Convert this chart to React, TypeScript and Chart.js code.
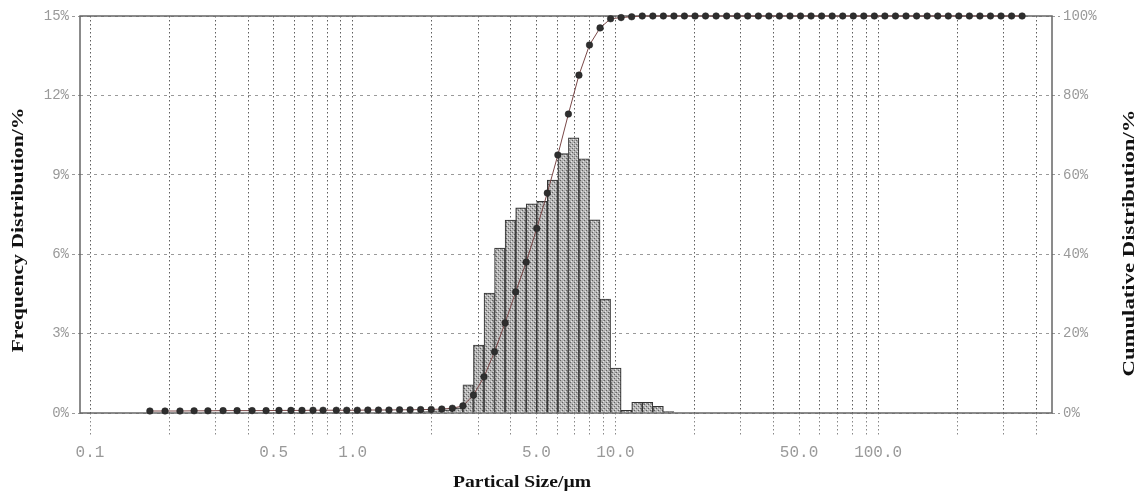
import React, { useEffect, useRef } from 'react';
import { Chart, registerables } from 'chart.js';

Chart.register(...registerables);

// Cumulative distribution points: particle size (µm) and cumulative %
const cumulativeSizes = [
  0.169, 0.193, 0.220, 0.249, 0.281, 0.321, 0.363, 0.414, 0.468, 0.524, 0.582, 0.641, 0.706, 0.771,
  0.866, 0.949, 1.041, 1.142, 1.253, 1.374, 1.508, 1.654, 1.814, 1.990, 2.183, 2.395,
  2.627, 2.881, 3.160, 3.466, 3.802, 4.171, 4.575, 5.018, 5.504, 6.037, 6.622, 7.263, 7.967, 8.739, 9.585, 10.51, 11.53,
  12.65, 13.88, 15.22, 16.70, 18.31, 20.09, 22.03, 24.17, 26.51, 29.08, 31.89, 34.99, 38.38, 42.10, 46.17, 50.65,
  55.55, 60.94, 66.83, 73.31, 80.42, 88.20, 96.76, 106.1, 116.4, 127.7, 140.1, 153.7, 168.6, 184.9, 202.8, 222.5,
  244.0, 267.7, 293.6, 322.1, 353.2,
];
const cumulativeValues = [
  0.5, 0.5, 0.5, 0.55, 0.55, 0.6, 0.6, 0.6, 0.6, 0.65, 0.65, 0.65, 0.7, 0.7,
  0.7, 0.7, 0.7, 0.75, 0.75, 0.75, 0.8, 0.8, 0.85, 0.9, 1.0, 1.2,
  1.8, 4.5, 9.1, 15.4, 22.7, 30.5, 38.0, 46.5, 55.4, 65.0, 75.3, 85.1, 92.7, 97.0, 99.3, 99.6, 99.8,
  100, 100, 100, 100, 100, 100, 100, 100, 100, 100, 100, 100, 100, 100, 100, 100,
  100, 100, 100, 100, 100, 100, 100, 100, 100, 100, 100, 100, 100, 100, 100, 100,
  100, 100, 100, 100, 100,
];

// Frequency histogram: bin centres (µm) and frequency %
const binCenters = [
  1.900, 2.084, 2.286, 2.508, 2.751, 3.017, 3.310, 3.630, 3.982, 4.368, 4.791, 5.255,
  5.764, 6.323, 6.935, 7.607, 8.344, 9.152, 10.04, 11.01, 12.08, 13.25, 14.54, 15.94,
];
const frequencyValues = [
  0.05, 0.08, 0.12, 0.2, 1.06, 2.57, 4.53, 6.23, 7.29, 7.75, 7.9, 8.0,
  8.8, 9.8, 10.4, 9.6, 7.3, 4.3, 1.7, 0.1, 0.4, 0.4, 0.25, 0.05,
];

// Axis ticks
const xGridTicks = [
  0.1, 0.2, 0.3, 0.4, 0.5, 0.6, 0.7, 0.8, 0.9,
  1, 2, 3, 4, 5, 6, 7, 8, 9,
  10, 20, 30, 40, 50, 60, 70, 80, 90,
  100, 200, 300, 400,
];
const xLabeledTicks = [0.1, 0.5, 1, 5, 10, 50, 100];
const leftTicks = [0, 3, 6, 9, 12, 15];
const rightTicks = [0, 20, 40, 60, 80, 100];

const xTitle = 'Partical Size/µm';
const leftTitle = 'Frequency Distribution/%';
const rightTitle = 'Cumulative Distribution/%';

function makePattern(): CanvasPattern | string {
  const c = document.createElement('canvas');
  c.width = 4;
  c.height = 4;
  const g = c.getContext('2d');
  if (!g) return 'rgba(160,160,160,0.8)';
  g.fillStyle = 'rgba(160,160,160,0.78)';
  g.fillRect(0, 0, 4, 4);
  g.fillStyle = 'rgba(70,70,70,0.75)';
  g.fillRect(0, 0, 1, 1);
  g.fillRect(2, 2, 1, 1);
  g.fillStyle = 'rgba(235,235,235,0.9)';
  g.fillRect(1, 3, 1, 1);
  g.fillRect(3, 1, 1, 1);
  return g.createPattern(c, 'repeat') || 'rgba(160,160,160,0.8)';
}

const framePlugin = {
  id: 'frameBox',
  beforeDatasetsDraw(chart: any) {
    const { ctx, chartArea } = chart;
    ctx.save();
    ctx.strokeStyle = '#666';
    ctx.lineWidth = 1.5;
    ctx.strokeRect(chartArea.left, chartArea.top, chartArea.right - chartArea.left, chartArea.bottom - chartArea.top);
    ctx.restore();
  },
};

const titlesPlugin = {
  id: 'axisTitles',
  afterDraw(chart: any) {
    const ctx = chart.ctx as CanvasRenderingContext2D;
    const draw = (text: string, cx: number, cy: number, rot: number, len: number, size: number) => {
      ctx.save();
      ctx.font = `bold ${size}px "Liberation Serif", "DejaVu Serif", serif`;
      ctx.fillStyle = '#111';
      ctx.textAlign = 'center';
      ctx.textBaseline = 'middle';
      const w = ctx.measureText(text).width;
      ctx.translate(cx, cy);
      ctx.rotate(rot);
      ctx.scale(len / w, 1);
      ctx.fillText(text, 0, 0);
      ctx.restore();
    };
    draw(leftTitle, 19, 230, -Math.PI / 2, 245, 17);
    draw(rightTitle, 1130, 243, -Math.PI / 2, 267, 17);
    draw(xTitle, 522, 483, 0, 138, 17);
  },
};

export default function App() {
  const ref = useRef<HTMLCanvasElement | null>(null);

  useEffect(() => {
    if (!ref.current) return;
    const tickFont = { family: '"Liberation Mono", "DejaVu Sans Mono", monospace', size: 14 };
    const xTickFont = { family: '"Liberation Mono", "DejaVu Sans Mono", monospace', size: 16 };
    const chart = new Chart(ref.current, {
      type: 'bar',
      data: {
        datasets: [
          {
            type: 'line',
            label: 'Cumulative',
            data: cumulativeSizes.map((s, i) => ({ x: s, y: cumulativeValues[i] })),
            yAxisID: 'y2',
            borderColor: '#7a4848',
            borderWidth: 1,
            tension: 0,
            pointRadius: 3.3,
            pointBackgroundColor: '#2e2e2e',
            pointBorderColor: '#222',
            pointBorderWidth: 0.5,
            clip: false,
            order: 0,
          } as any,
          {
            type: 'bar',
            label: 'Frequency',
            data: binCenters.map((s, i) => ({ x: s, y: frequencyValues[i] })),
            yAxisID: 'y',
            backgroundColor: makePattern(),
            borderColor: '#333',
            borderWidth: 1,
            barPercentage: 1,
            categoryPercentage: 1,
            order: 1,
          } as any,
        ],
      },
      options: {
        animation: false,
        responsive: false,
        devicePixelRatio: 1,
        layout: { padding: { top: 16, left: 0, right: 0, bottom: 0 } },
        plugins: {
          legend: { display: false },
          tooltip: { enabled: false },
        },
        scales: {
          x: {
            type: 'logarithmic',
            position: 'bottom',
            offset: false,
            min: 0.0916,
            max: 459,
            bounds: 'data',
            afterBuildTicks: (scale: any) => {
              scale.ticks = xGridTicks.map((v) => ({ value: v }));
            },
            afterFit: (scale: any) => {
              scale.height = 79;
            },
            ticks: {
              autoSkip: false,
              maxRotation: 0,
              minRotation: 0,
              padding: 6,
              color: '#999',
              font: xTickFont,
              callback: (value: any) => (xLabeledTicks.includes(Number(value)) ? Number(value).toFixed(1) : ''),
            },
            grid: {
              offset: false,
              color: '#5e5e5e',
              lineWidth: 1,
              drawTicks: true,
              tickLength: 24,
              tickColor: '#888',
              tickWidth: 1,
              tickBorderDash: [1.5, 2.5],
            },
            border: { display: false, dash: [1.5, 2.5] },
          } as any,
          y: {
            type: 'linear',
            position: 'left',
            min: 0,
            max: 15,
            afterBuildTicks: (scale: any) => {
              scale.ticks = leftTicks.map((v) => ({ value: v }));
            },
            afterFit: (scale: any) => {
              scale.width = 80;
            },
            ticks: {
              padding: 3,
              color: '#999',
              font: tickFont,
              callback: (value: any) => `${value}%`,
            },
            grid: {
              color: '#9a9a9a',
              lineWidth: 1,
              tickLength: 8,
              tickColor: '#999',
              tickBorderDash: [3, 3],
            },
            border: { display: false, dash: [3, 4] },
          } as any,
          y2: {
            type: 'linear',
            position: 'right',
            min: 0,
            max: 100,
            afterBuildTicks: (scale: any) => {
              scale.ticks = rightTicks.map((v) => ({ value: v }));
            },
            afterFit: (scale: any) => {
              scale.width = 83;
            },
            ticks: {
              padding: 3,
              color: '#999',
              font: tickFont,
              callback: (value: any) => `${value}%`,
            },
            grid: {
              drawOnChartArea: false,
              color: '#9a9a9a',
              tickLength: 8,
              tickColor: '#999',
              tickBorderDash: [3, 3],
            },
            border: { display: false },
          } as any,
        },
      },
      plugins: [framePlugin, titlesPlugin],
    });
    return () => chart.destroy();
  }, []);

  return (
    <div style={{ position: 'fixed', left: 0, top: 0, width: 1135, height: 492, background: '#fff' }}>
      <canvas ref={ref} width={1135} height={492} style={{ display: 'block', width: 1135, height: 492 }} />
    </div>
  );
}
